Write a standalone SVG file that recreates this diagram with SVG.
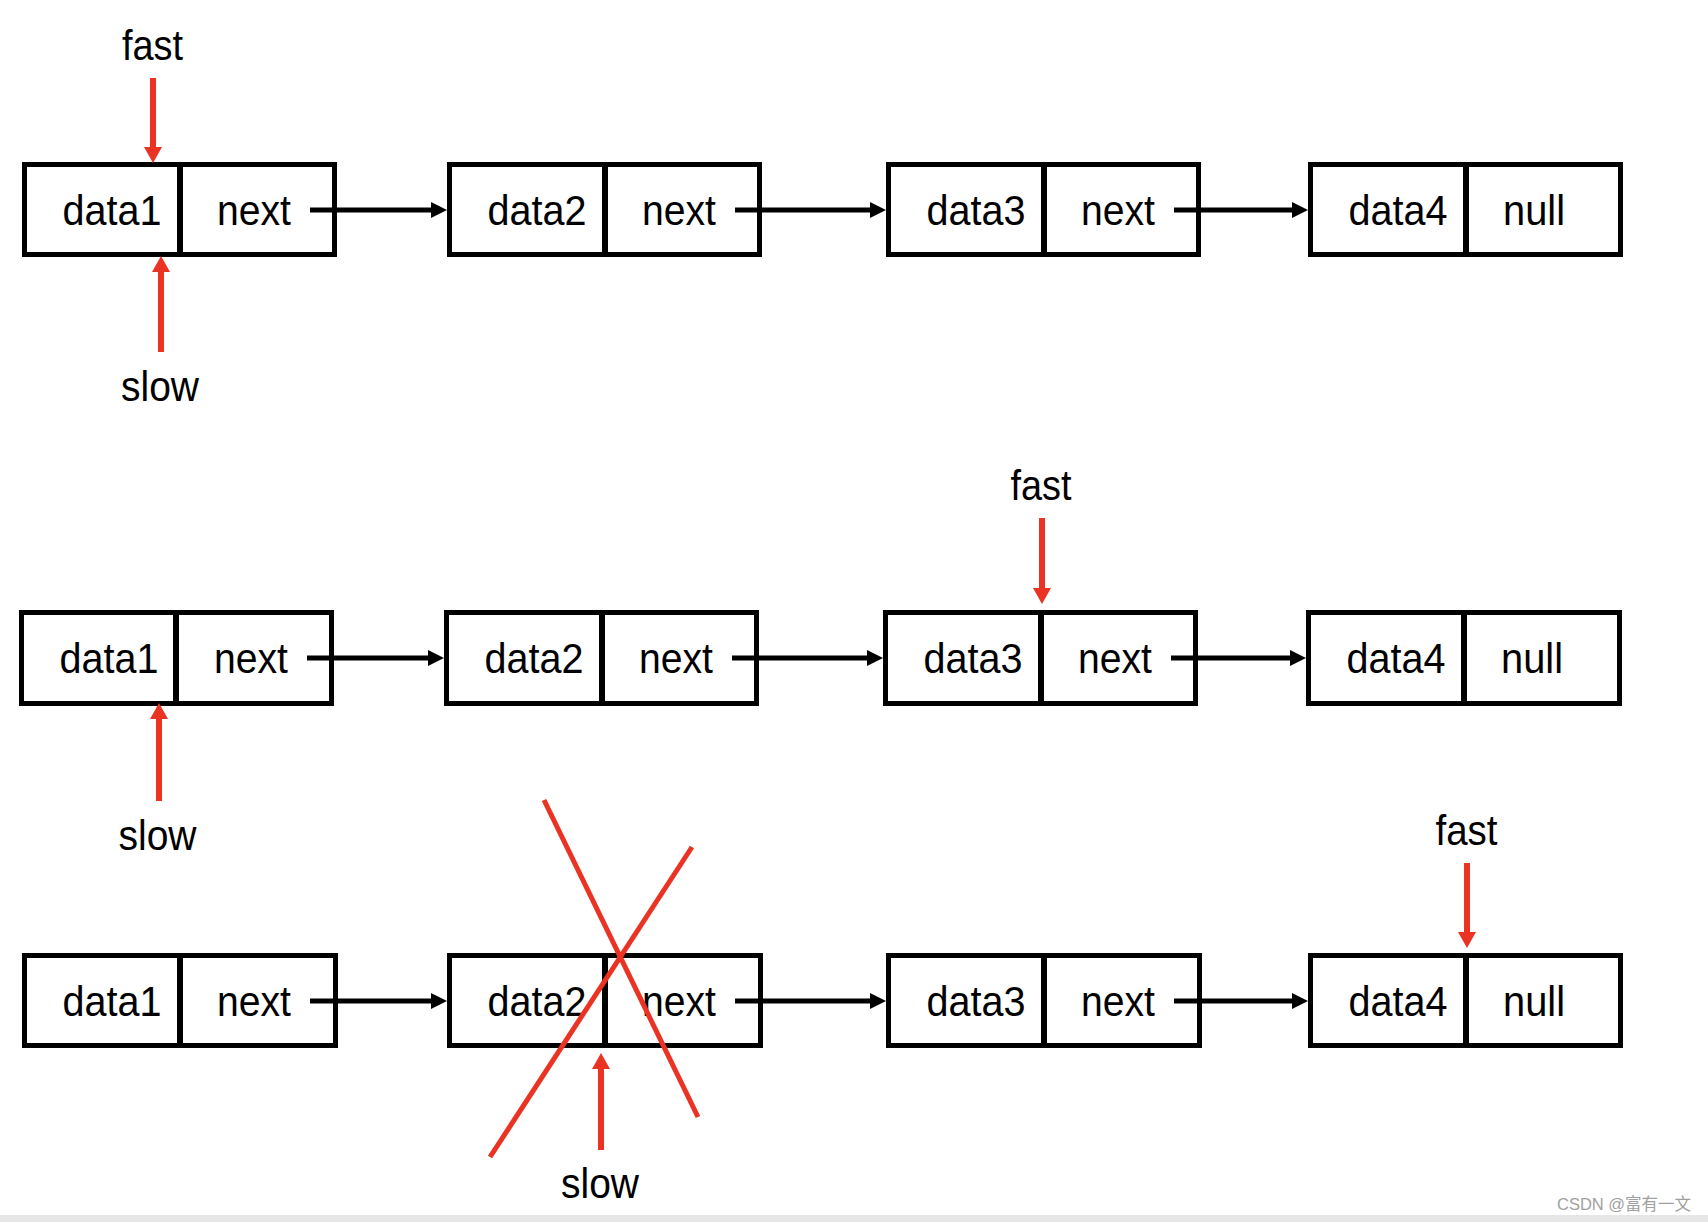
<svg xmlns="http://www.w3.org/2000/svg" width="1708" height="1222" viewBox="0 0 1708 1222">
<style>
.box{fill:#fff;stroke:#000;stroke-width:5}
.div{stroke:#000;stroke-width:6}
.t{font-family:"Liberation Sans",Arial,sans-serif;font-size:42px;fill:#000;text-anchor:middle}
.conn{stroke:#000;stroke-width:5;fill:none}
.ptr{stroke:#EA3323;stroke-width:6;fill:none}
.cross{stroke:#EA3323;stroke-width:5;fill:none}
.wm{font-family:"Liberation Sans","Noto Sans CJK SC",sans-serif;font-size:16.5px;fill:#a0a0a0}
</style>
<defs>
<marker id="ah" viewBox="0 0 16 16" markerUnits="userSpaceOnUse" markerWidth="16" markerHeight="16" refX="4" refY="8" orient="auto"><path d="M0,0 L16,8 L0,16 z" fill="#000"/></marker>
<marker id="rh" viewBox="0 0 16 18" markerUnits="userSpaceOnUse" markerWidth="16" markerHeight="18" refX="4" refY="9" orient="auto"><path d="M0,0 L16,9 L0,18 z" fill="#EA3323"/></marker>
</defs>
<rect x="0" y="0" width="1708" height="1222" fill="#fff"/>
<rect x="0" y="1215" width="1708" height="7" fill="#e6e6e6"/>

<!-- Row 1 -->
<g id="r1n1"><rect class="box" x="24.5" y="164.5" width="310" height="90"/><line class="div" x1="180" y1="162" x2="180" y2="257"/><text class="t" x="112" y="225" textLength="99" lengthAdjust="spacingAndGlyphs">data1</text><text class="t" x="254" y="225" textLength="74" lengthAdjust="spacingAndGlyphs">next</text></g>
<g id="r1n2"><rect class="box" x="449.5" y="164.5" width="310" height="90"/><line class="div" x1="605" y1="162" x2="605" y2="257"/><text class="t" x="537" y="225" textLength="99" lengthAdjust="spacingAndGlyphs">data2</text><text class="t" x="679" y="225" textLength="74" lengthAdjust="spacingAndGlyphs">next</text></g>
<g id="r1n3"><rect class="box" x="888.5" y="164.5" width="310" height="90"/><line class="div" x1="1044" y1="162" x2="1044" y2="257"/><text class="t" x="976" y="225" textLength="99" lengthAdjust="spacingAndGlyphs">data3</text><text class="t" x="1118" y="225" textLength="74" lengthAdjust="spacingAndGlyphs">next</text></g>
<g id="r1n4"><rect class="box" x="1310.5" y="164.5" width="310" height="90"/><line class="div" x1="1466" y1="162" x2="1466" y2="257"/><text class="t" x="1398" y="225" textLength="99" lengthAdjust="spacingAndGlyphs">data4</text><text class="t" x="1534" y="225" textLength="62" lengthAdjust="spacingAndGlyphs">null</text></g>

<!-- Row 2 -->
<g id="r2n1"><rect class="box" x="21.5" y="612.5" width="310" height="91"/><line class="div" x1="176" y1="610" x2="176" y2="706"/><text class="t" x="109" y="673" textLength="99" lengthAdjust="spacingAndGlyphs">data1</text><text class="t" x="251" y="673" textLength="74" lengthAdjust="spacingAndGlyphs">next</text></g>
<g id="r2n2"><rect class="box" x="446.5" y="612.5" width="310" height="91"/><line class="div" x1="602" y1="610" x2="602" y2="706"/><text class="t" x="534" y="673" textLength="99" lengthAdjust="spacingAndGlyphs">data2</text><text class="t" x="676" y="673" textLength="74" lengthAdjust="spacingAndGlyphs">next</text></g>
<g id="r2n3"><rect class="box" x="885.5" y="612.5" width="310" height="91"/><line class="div" x1="1041" y1="610" x2="1041" y2="706"/><text class="t" x="973" y="673" textLength="99" lengthAdjust="spacingAndGlyphs">data3</text><text class="t" x="1115" y="673" textLength="74" lengthAdjust="spacingAndGlyphs">next</text></g>
<g id="r2n4"><rect class="box" x="1308.5" y="612.5" width="311" height="91"/><line class="div" x1="1464" y1="610" x2="1464" y2="706"/><text class="t" x="1396" y="673" textLength="99" lengthAdjust="spacingAndGlyphs">data4</text><text class="t" x="1532" y="673" textLength="62" lengthAdjust="spacingAndGlyphs">null</text></g>

<!-- Row 3 -->
<g id="r3n1"><rect class="box" x="24.5" y="955.5" width="311" height="90"/><line class="div" x1="180" y1="953" x2="180" y2="1048"/><text class="t" x="112" y="1016" textLength="99" lengthAdjust="spacingAndGlyphs">data1</text><text class="t" x="254" y="1016" textLength="74" lengthAdjust="spacingAndGlyphs">next</text></g>
<g id="r3n2"><rect class="box" x="449.5" y="955.5" width="311" height="90"/><line class="div" x1="605" y1="953" x2="605" y2="1048"/><text class="t" x="537" y="1016" textLength="99" lengthAdjust="spacingAndGlyphs">data2</text><text class="t" x="679" y="1016" textLength="74" lengthAdjust="spacingAndGlyphs">next</text></g>
<g id="r3n3"><rect class="box" x="888.5" y="955.5" width="311" height="90"/><line class="div" x1="1044" y1="953" x2="1044" y2="1048"/><text class="t" x="976" y="1016" textLength="99" lengthAdjust="spacingAndGlyphs">data3</text><text class="t" x="1118" y="1016" textLength="74" lengthAdjust="spacingAndGlyphs">next</text></g>
<g id="r3n4"><rect class="box" x="1310.5" y="955.5" width="310" height="90"/><line class="div" x1="1466" y1="953" x2="1466" y2="1048"/><text class="t" x="1398" y="1016" textLength="99" lengthAdjust="spacingAndGlyphs">data4</text><text class="t" x="1534" y="1016" textLength="62" lengthAdjust="spacingAndGlyphs">null</text></g>

<!-- Connectors -->
<g id="connectors">
<line class="conn" x1="310" y1="210" x2="435" y2="210" marker-end="url(#ah)"/>
<line class="conn" x1="735" y1="210" x2="874" y2="210" marker-end="url(#ah)"/>
<line class="conn" x1="1174" y1="210" x2="1296" y2="210" marker-end="url(#ah)"/>
<line class="conn" x1="307" y1="658" x2="432" y2="658" marker-end="url(#ah)"/>
<line class="conn" x1="732" y1="658" x2="871" y2="658" marker-end="url(#ah)"/>
<line class="conn" x1="1171" y1="658" x2="1294" y2="658" marker-end="url(#ah)"/>
<line class="conn" x1="310" y1="1001" x2="435" y2="1001" marker-end="url(#ah)"/>
<line class="conn" x1="735" y1="1001" x2="874" y2="1001" marker-end="url(#ah)"/>
<line class="conn" x1="1174" y1="1001" x2="1296" y2="1001" marker-end="url(#ah)"/>
</g>

<!-- Pointers -->
<g id="pointers">
<line class="ptr" x1="153" y1="78" x2="153" y2="151" marker-end="url(#rh)"/>
<text class="t" x="152.5" y="60" textLength="61" lengthAdjust="spacingAndGlyphs">fast</text>
<line class="ptr" x1="161" y1="352" x2="161" y2="268" marker-end="url(#rh)"/>
<text class="t" x="160" y="401" textLength="78" lengthAdjust="spacingAndGlyphs">slow</text>

<line class="ptr" x1="1042" y1="518" x2="1042" y2="592" marker-end="url(#rh)"/>
<text class="t" x="1041" y="500" textLength="61" lengthAdjust="spacingAndGlyphs">fast</text>
<line class="ptr" x1="159" y1="801" x2="159" y2="715" marker-end="url(#rh)"/>
<text class="t" x="157.5" y="850" textLength="78" lengthAdjust="spacingAndGlyphs">slow</text>

<line class="ptr" x1="1467" y1="863" x2="1467" y2="936" marker-end="url(#rh)"/>
<text class="t" x="1466.5" y="845" textLength="62" lengthAdjust="spacingAndGlyphs">fast</text>
<line class="ptr" x1="601" y1="1150" x2="601" y2="1065" marker-end="url(#rh)"/>
<text class="t" x="600" y="1198" textLength="78" lengthAdjust="spacingAndGlyphs">slow</text>
</g>

<!-- Cross -->
<g id="cross">
<line class="cross" x1="544" y1="800" x2="698" y2="1117"/>
<line class="cross" x1="692" y1="847" x2="490" y2="1157"/>
</g>

<text class="wm" x="1557" y="1210">CSDN @富有一文</text>
</svg>
